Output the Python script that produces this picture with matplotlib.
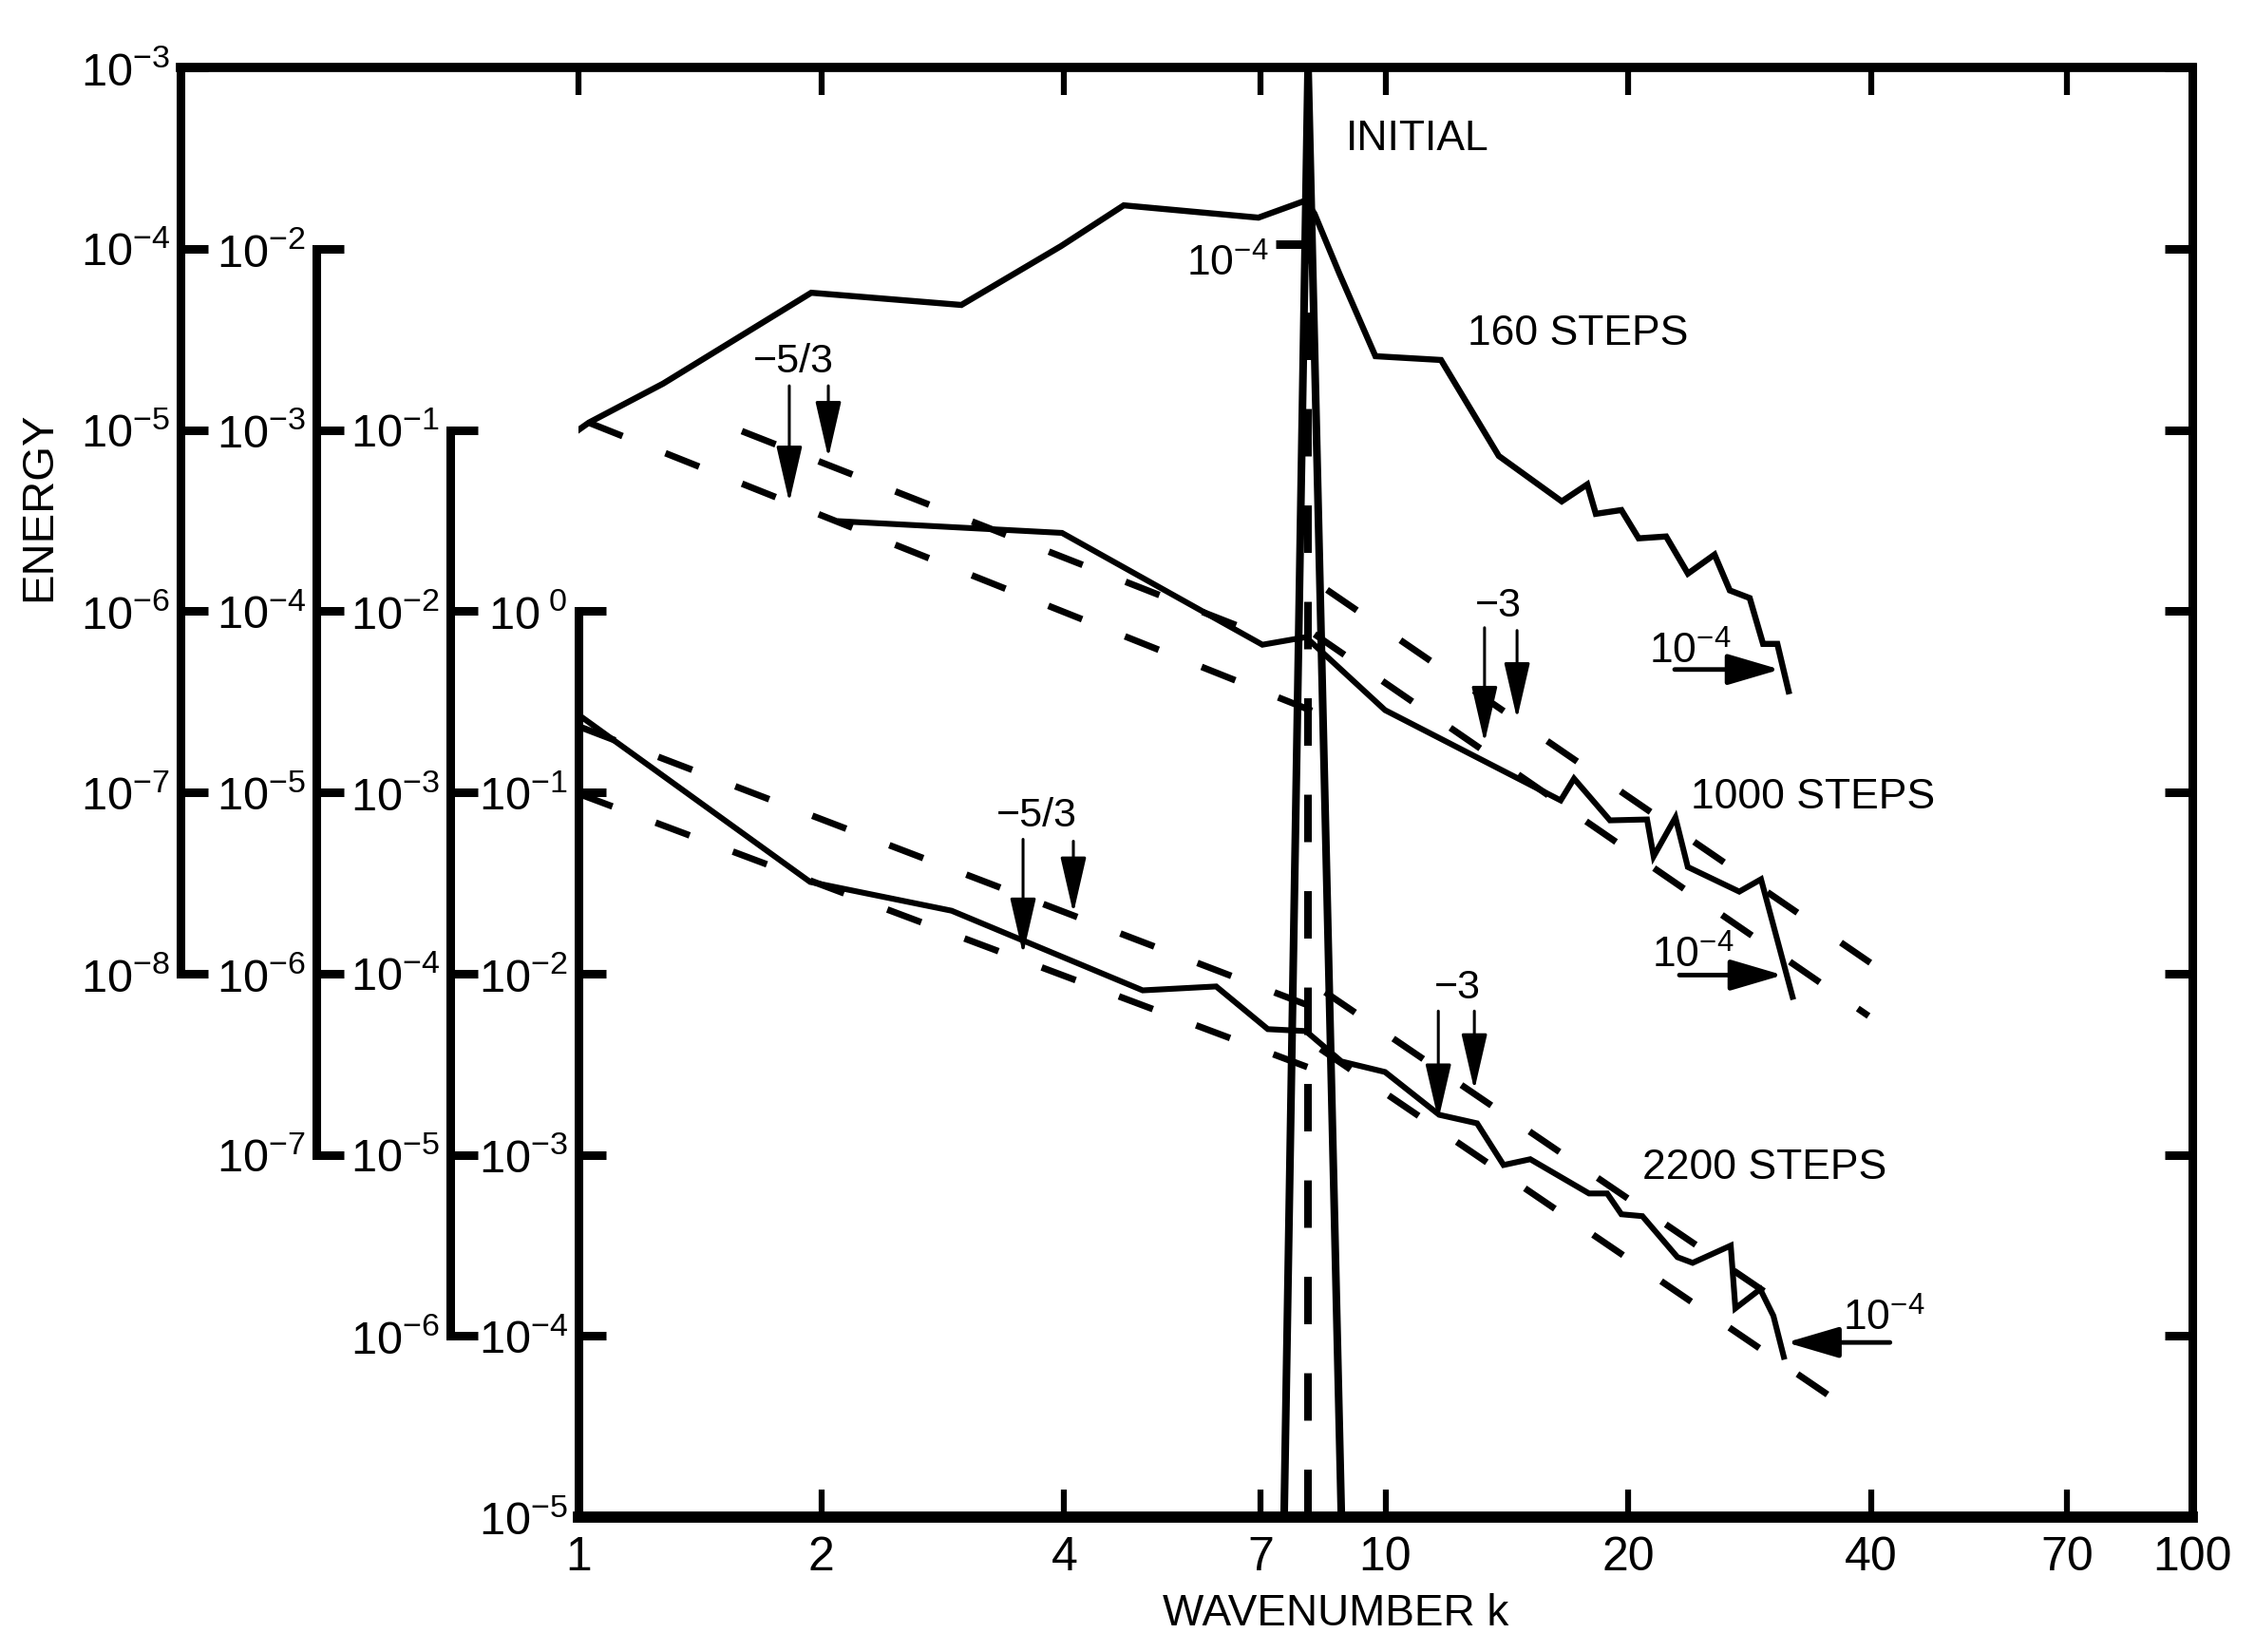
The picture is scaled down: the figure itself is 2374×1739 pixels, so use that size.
import numpy as np
import matplotlib
matplotlib.use('Agg')
import matplotlib.pyplot as plt
from matplotlib import font_manager
from matplotlib.lines import Line2D
from matplotlib.ticker import NullLocator

# ---------------- data (energies in units of the innermost 1e0..1e-5 scale) ----------------
k_initial = [7.49, 8.02, 8.82]
e_initial = [1e-5, 1e3, 1e-5]
k_initial_dash = [8.02, 8.02]
e_initial_dash = [1e-5, 1e3]

k_160 = [0.976, 1.03, 1.273, 1.943, 2.982, 3.963, 4.74, 6.96, 7.97, 8.17, 8.77, 9.72,
         11.72, 13.82, 16.54, 17.79, 18.23, 19.61, 20.6, 22.28, 23.71, 25.58, 26.72,
         28.28, 29.38, 30.6, 31.6]
e_160 = [9.25, 10.96, 17.99, 57.1, 48.9, 103.3, 173.4, 148.3, 184.5, 155.6, 72.8, 25.5,
         24.3, 7.18, 4.03, 5.00, 3.44, 3.61, 2.52, 2.58, 1.61, 2.05, 1.30,
         1.18, 0.659, 0.659, 0.361]

k_1000 = [2.113, 3.974, 7.04, 7.97, 9.99, 16.49, 17.13, 18.98, 21.1, 21.5, 22.88, 23.7,
          27.45, 29.21, 31.96]
e_1000 = [3.13, 2.70, 0.652, 0.718, 0.284, 0.0902, 0.119, 0.0700, 0.0708, 0.0443, 0.0726,
          0.0387, 0.0283, 0.0331, 0.00743]

k_2200 = [1.008, 1.937, 2.90, 5.003, 6.17, 7.15, 7.97, 8.82, 9.99, 11.66, 12.99, 14.01,
          15.12, 17.88, 18.83, 19.61, 20.82, 23.01, 24.03, 26.79, 27.15, 29.14, 30.26, 31.17]
e_2200 = [0.261, 0.0320, 0.0222, 0.00807, 0.00848, 0.00493, 0.00481, 0.00327, 0.00286,
          0.00166, 0.00149, 0.000877, 0.000944, 0.000611, 0.000611, 0.000469, 0.000458,
          0.000272, 0.000253, 0.000315, 0.000142, 0.000181, 0.000129, 0.0000767]

# reference power-law lines (end points)
k_ref53_1000_lo = [1.03, 8.89];  e_ref53_1000_lo = [10.96, 0.239]
k_ref53_1000_hi = [1.594, 7.08]; e_ref53_1000_hi = [9.84, 0.726]
k_ref3_1000_hi = [8.465, 39.9];  e_ref3_1000_hi = [1.31, 0.01146]
k_ref3_1000_lo = [8.17, 39.7];   e_ref3_1000_lo = [0.745, 0.00583]
k_ref53_2200_hi = [1.008, 8.04]; e_ref53_2200_hi = [0.228, 0.00665]
k_ref53_2200_lo = [1.0, 8.49];   e_ref53_2200_lo = [0.0982, 0.00276]
k_ref3_2200_hi = [8.42, 32.4];   e_ref3_2200_hi = [0.00789, 0.000132]
k_ref3_2200_lo = [8.31, 38.4];   e_ref3_2200_lo = [0.00383, 0.0000368]

xtick_vals = [1, 2, 4, 7, 10, 20, 40, 70, 100]
xtick_labels = ['1', '2', '4', '7', '10', '20', '40', '70', '100']
ticks_axis1 = [1e-3, 1e-4, 1e-5, 1e-6, 1e-7, 1e-8]
ticks_axis2 = [1e-2, 1e-3, 1e-4, 1e-5, 1e-6, 1e-7]
ticks_axis3 = [1e-1, 1e-2, 1e-3, 1e-4, 1e-5, 1e-6]
ticks_axis4 = [1e0, 1e-1, 1e-2, 1e-3, 1e-4, 1e-5]
ticks_right = [1e3, 1e2, 1e1, 1e0, 1e-1, 1e-2, 1e-3, 1e-4, 1e-5]

# ---------------- fonts ----------------
names = {f.name for f in font_manager.fontManager.ttflist}
NARROW = 'Liberation Sans Narrow' if 'Liberation Sans Narrow' in names else 'Liberation Sans'
plt.rcParams['font.family'] = [NARROW, 'DejaVu Sans']
plt.rcParams['mathtext.fontset'] = 'custom'
plt.rcParams['mathtext.rm'] = NARROW
plt.rcParams['mathtext.it'] = NARROW
plt.rcParams['mathtext.default'] = 'regular'

W, H, DPI = 2374, 1740, 100
fig = plt.figure(figsize=(W / DPI, H / DPI), dpi=DPI)

L, R = 609 / W, 2308 / W
B, T = 1 - 1598 / H, 1 - 72 / H

SPW = 6.5   # spine width
TL = 21     # tick length
TW = 6.5    # tick width
FS = 35     # axis label font size
LFS = 32    # in-plot label font size


def pow_label(t):
    e = int(round(np.log10(t)))
    if e == 0:
        return r'$\mathregular{10^{\ 0}}$'
    return r'$\mathregular{10^{%d}}$' % e


# ---------------- main axes ----------------
ax = fig.add_axes([L, B, R - L, T - B])
ax.set_xscale('log')
ax.set_yscale('log')
ax.set_xlim(1, 100)
ax.set_ylim(1e-5, 1e3)
ax.patch.set_visible(False)
ax.spines['top'].set_visible(False)
ax.spines['left'].set_bounds(1e-5, 1e0)
ax.spines['left'].set_linewidth(SPW)
ax.spines['right'].set_linewidth(SPW)
ax.spines['bottom'].set_linewidth(8.5)

ax.set_xticks(xtick_vals, labels=xtick_labels)
ax.xaxis.set_minor_locator(NullLocator())
ax.tick_params(axis='x', which='major', direction='in', top=True, bottom=True,
               length=21, width=4.5, labelsize=36, pad=14)
ax.set_yticks(ticks_axis4, labels=[pow_label(t) for t in ticks_axis4])
ax.yaxis.set_minor_locator(NullLocator())
ax.tick_params(axis='y', which='major', direction='in', left=True, right=False,
               length=TL, width=TW, labelsize=FS, pad=8)

axr = ax.twinx()
axr.set_yscale('log')
axr.set_ylim(1e-5, 1e3)
axr.set_yticks(ticks_right)
axr.yaxis.set_minor_locator(NullLocator())
axr.tick_params(axis='y', which='major', direction='in', length=TL, width=TW,
                labelright=False)
for s in axr.spines.values():
    s.set_visible(False)

# extended top frame line
fig.add_artist(Line2D([190 / W, R], [T, T], transform=fig.transFigure, color='k',
                      lw=7, solid_capstyle='projecting'))


def side_axis(xpix, lo, hi, ticks):
    a = fig.add_axes([xpix / W, B, 0.0005, T - B])
    a.set_yscale('log')
    a.set_ylim(lo, hi)
    a.patch.set_visible(False)
    for s in ['right', 'top', 'bottom']:
        a.spines[s].set_visible(False)
    a.spines['left'].set_linewidth(SPW)
    a.spines['left'].set_bounds(min(ticks), max(ticks))
    a.set_xticks([])
    a.set_yticks(ticks, labels=[pow_label(t) for t in ticks])
    a.yaxis.set_minor_locator(NullLocator())
    a.tick_params(axis='y', which='major', direction='in', length=TL, width=TW,
                  labelsize=FS, pad=8)
    return a


side_axis(190, 1e-11, 1e-3, ticks_axis1)
side_axis(333, 1e-9, 1e-1, ticks_axis2)
side_axis(474, 1e-7, 1e1, ticks_axis3)

# ---------------- curves ----------------
ax.plot(k_initial, e_initial, color='k', lw=5.8, solid_joinstyle='miter')
ax.plot(k_initial_dash, e_initial_dash, color='k', lw=5.8, dashes=(6.2, 6.4))
ax.plot(k_160, e_160, color='k', lw=4.6, solid_joinstyle='miter')
ax.plot(k_1000, e_1000, color='k', lw=4.4, solid_joinstyle='miter')
ax.plot(k_2200, e_2200, color='k', lw=4.4, solid_joinstyle='miter')

dash = dict(color='k', lw=5.0, dashes=(5.5, 7.0))
for kk, ee in [(k_ref53_1000_lo, e_ref53_1000_lo), (k_ref53_1000_hi, e_ref53_1000_hi),
               (k_ref3_1000_lo, e_ref3_1000_lo),
               (k_ref53_2200_hi, e_ref53_2200_hi), (k_ref53_2200_lo, e_ref53_2200_lo),
               (k_ref3_2200_hi, e_ref3_2200_hi), (k_ref3_2200_lo, e_ref3_2200_lo)]:
    ax.plot(kk, ee, **dash)
ax.plot(k_ref3_1000_hi, e_ref3_1000_hi, color='k', lw=5.0, dashes=(5.5, 8.0))

# ---------------- annotations ----------------
varrow = dict(arrowstyle='-|>,head_length=3.7,head_width=0.85', lw=2.2, color='k',
              mutation_scale=10, shrinkA=0, shrinkB=0)
harrow = dict(arrowstyle='-|>,head_length=3.4,head_width=1.0', lw=3.5, color='k',
              mutation_scale=10, shrinkA=0, shrinkB=0)

# slope markers: (x, tail, tip)
for x, tail, tip in [(1.825, 17.5, 3.98), (2.04, 17.5, 7.02),
                     (3.556, 0.0550, 0.01276), (4.105, 0.0537, 0.0215),
                     (13.27, 0.809, 0.188), (14.56, 0.781, 0.254),
                     (11.63, 0.0062, 0.00155), (12.89, 0.0062, 0.002275)]:
    ax.annotate('', xy=(x, tip), xytext=(x, tail), arrowprops=varrow)

ax.text(1.845, 24.0, '\u22125/3', fontsize=31, ha='center', va='center')
ax.text(3.70, 0.0752, '\u22125/3', fontsize=31, ha='center', va='center')
ax.text(13.82, 1.08, '\u22123', fontsize=31, ha='center', va='center')
ax.text(12.30, 0.00838, '\u22123', fontsize=31, ha='center', va='center')

# 1e-4 reference arrows
ax.annotate('', xy=(30.84, 0.476), xytext=(22.83, 0.476), arrowprops=harrow)
ax.text(21.2, 0.52, pow_label(1e-4), fontsize=LFS, ha='left', va='baseline')
ax.annotate('', xy=(31.09, 0.0098), xytext=(23.14, 0.0098), arrowprops=harrow)
ax.text(21.39, 0.01091, pow_label(1e-4), fontsize=LFS, ha='left', va='baseline')
ax.annotate('', xy=(31.4, 9.2e-5), xytext=(42.2, 9.2e-5), arrowprops=harrow)
ax.text(36.88, 1.076e-4, pow_label(1e-4), fontsize=LFS, ha='left', va='baseline')

# 1e-4 mark for the initial spectrum
ax.plot([7.31, 7.91], [105.9, 105.9], color='k', lw=6.5, solid_capstyle='butt')
ax.text(7.155, 71.1, pow_label(1e-4), fontsize=LFS, ha='right', va='baseline')

# curve labels
ax.text(8.94, 408, 'INITIAL', fontsize=LFS, ha='left', va='center')
ax.text(12.64, 34.4, '160 STEPS', fontsize=LFS, ha='left', va='center')
ax.text(23.9, 0.0946, '1000 STEPS', fontsize=LFS, ha='left', va='center')
ax.text(20.8, 8.57e-4, '2200 STEPS', fontsize=LFS, ha='left', va='center')

fig.text(1406 / W, 1 - 1699 / H, 'WAVENUMBER k', fontsize=33, ha='center', va='center')
fig.text(41 / W, 1 - 533 / H, 'ENERGY', fontsize=34, rotation=90, ha='center',
         va='center', family=['Liberation Sans', 'DejaVu Sans'])

fig.savefig('out.png', dpi=DPI)
